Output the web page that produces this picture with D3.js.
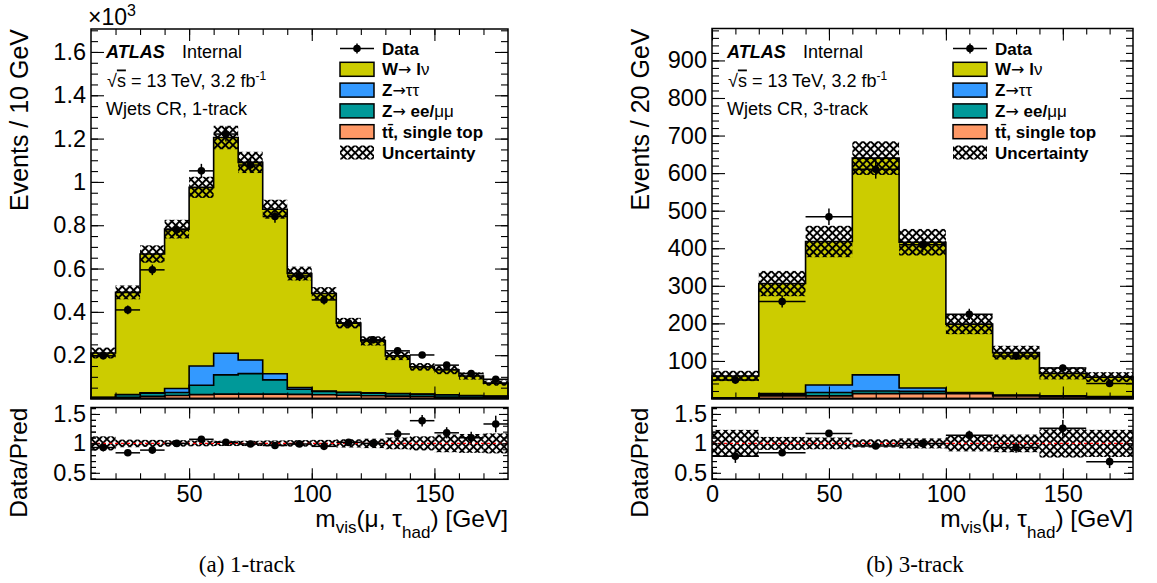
<!DOCTYPE html>
<html>
<head>
<meta charset="utf-8">
<script src="https://cdn.jsdelivr.net/npm/d3@7"></script>
<style>
  body { margin: 0; background: #fff; }
  svg { display: block; }
  text { font-family: "Liberation Sans", Arial, Helvetica, sans-serif; fill: #000; }
</style>
</head>
<body>
<svg id="fig" width="1157" height="583"></svg>
<script>
//bin edges (GeV)
var edgesL = [10, 20, 30, 40, 50, 60, 70, 80, 90, 100, 110, 120, 130, 140, 150, 160, 170, 180],
    edgesR = [0, 20, 40, 60, 80, 100, 120, 140, 160, 180];

//1-track: events / 10 GeV
var wjetsL = [205, 472, 641, 736, 825, 996, 912, 760, 526, 451, 319, 240, 174, 126, 115, 90, 60],
    zttL   = [1, 1, 2, 18, 89, 100, 63, 28, 8, 2, 1, 1, 1, 1, 1, 1, 1],
    zllL   = [1, 11, 14, 14, 43, 89, 95, 66, 24, 15, 13, 12, 11, 10, 9, 7, 5],
    topL   = [3, 6, 10, 14, 18, 20, 20, 20, 19, 17, 15, 13, 11, 9, 7, 6, 5],
    dataL  = [197, 409, 594, 779, 1051, 1221, 1078, 840, 566, 455, 348, 271, 220, 201, 154, 115, 89],
    ratioL = [0.93, 0.84, 0.886, 1.0, 1.07, 1.02, 0.99, 0.965, 0.99, 0.95, 1.017, 1.0, 1.16, 1.386, 1.18, 1.096, 1.33],
    uncL   = [0.12, 0.065, 0.06, 0.055, 0.05, 0.045, 0.045, 0.05, 0.055, 0.06, 0.07, 0.08, 0.10, 0.12, 0.15, 0.16, 0.17];

//3-track: events / 20 GeV
var wjetsR = [58, 293, 382, 577, 388, 182, 113, 60, 52],
    zttR   = [0.5, 3, 20, 43, 9, 1, 1, 1, 1],
    zllR   = [0.5, 3, 9, 7, 6, 2, 1, 1, 1],
    topR   = [1, 7, 7, 13, 13, 13, 7, 5, 3],
    dataR  = [49, 258, 484, 610, 409, 224, 113, 81, 40],
    ratioR = [0.78, 0.84, 1.17, 0.955, 1.0, 1.14, 0.93, 1.256, 0.69],
    uncR   = [0.23, 0.11, 0.10, 0.07, 0.085, 0.135, 0.15, 0.24, 0.23];

//tick labels
var yTicksL = [200, 400, 600, 800, 1000, 1200, 1400, 1600],
    yTicksR = [100, 200, 300, 400, 500, 600, 700, 800, 900],
    xTicksL = [50, 100, 150],
    xTicksR = [0, 50, 100, 150],
    rTicks = [0.5, 1, 1.5];

var colors = ["#ff9966", "#009999", "#3399ff", "#cccc00"]; //top, Z->ll, Z->tautau, W

var svg = d3.select("#fig");

//hatch pattern for the uncertainty band
svg.append("defs").append("pattern")
    .attr("id", "hatch")
    .attr("patternUnits", "userSpaceOnUse")
    .attr("width", 5.4).attr("height", 5.4)
    .attr("patternTransform", "rotate(45)")
  .append("path")
    .attr("d", "M2.7,0V5.4M0,2.7H5.4")
    .attr("stroke", "#000")
    .attr("stroke-width", 2);

function styleAxis(g, size) {
    g.select(".domain").remove();
    g.selectAll(".tick line").attr("stroke", "#000").attr("stroke-width", 1.1);
    g.attr("font-family", null).attr("font-size", size);
    g.selectAll("text").attr("fill", "#000");
}

function frameTicks(g, x, y, P, top, bottom, xMaj, xMin, yMaj, yMin, yLen, xLen) {
    var a;
    a = g.append("g").attr("transform", "translate(" + P.left + ",0)")
        .call(d3.axisLeft(y).tickValues(yMin).tickSize(-yLen[1]).tickFormat(""));
    styleAxis(a, 23);
    a = g.append("g").attr("transform", "translate(" + P.right + ",0)")
        .call(d3.axisRight(y).tickValues(yMin).tickSize(-yLen[1]).tickFormat(""));
    styleAxis(a, 23);
    a = g.append("g").attr("transform", "translate(" + P.right + ",0)")
        .call(d3.axisRight(y).tickValues(yMaj).tickSize(-yLen[0]).tickFormat(""));
    styleAxis(a, 23);
    a = g.append("g").attr("transform", "translate(0," + top + ")")
        .call(d3.axisTop(x).tickValues(xMin).tickSize(-xLen[1]).tickFormat(""));
    styleAxis(a, 23);
    a = g.append("g").attr("transform", "translate(0," + top + ")")
        .call(d3.axisTop(x).tickValues(xMaj).tickSize(-xLen[0]).tickFormat(""));
    styleAxis(a, 23);
    a = g.append("g").attr("transform", "translate(0," + bottom + ")")
        .call(d3.axisBottom(x).tickValues(xMin).tickSize(-xLen[1]).tickFormat(""));
    styleAxis(a, 23);
}

function drawPanel(P) {
    var g = svg.append("g");
    var n = P.data.length;
    var x = d3.scaleLinear().domain([P.edges[0], P.edges[n]]).range([P.left, P.right]);
    var y = d3.scaleLinear().domain([0, P.yMax]).range([P.mainBottom, P.mainTop]);
    var r = d3.scaleLinear().domain([0.39, 1.61]).range([P.ratBottom, P.ratTop]);

    //cumulative stack, bottom to top: top, Z->ll, Z->tautau, W
    var layers = [P.top, P.zll, P.ztt, P.wjets];
    var cum = [], run = P.data.map(function() { return 0; });
    layers.forEach(function(l) {
        run = run.map(function(v, i) { return v + l[i]; });
        cum.push(run);
    });
    var total = cum[3];

    var area = d3.area().curve(d3.curveStepAfter)
        .x(function(d) { return x(d.e); })
        .y0(y(0))
        .y1(function(d) { return y(d.v); });

    for (var k = 3; k >= 0; k--) {
        var pts = P.edges.map(function(e, i) { return {e: e, v: cum[k][Math.min(i, n - 1)]}; });
        g.append("path")
            .attr("d", area(pts))
            .attr("fill", colors[k])
            .attr("stroke", "#000")
            .attr("stroke-width", 1.6);
    }

    //uncertainty band
    g.selectAll(".band").data(total).enter().append("rect")
        .attr("x", function(d, i) { return x(P.edges[i]); })
        .attr("width", function(d, i) { return x(P.edges[i + 1]) - x(P.edges[i]); })
        .attr("y", function(d, i) { return y(d * (1 + P.unc[i])); })
        .attr("height", function(d, i) { return y(d * (1 - P.unc[i])) - y(d * (1 + P.unc[i])); })
        .attr("fill", "url(#hatch)");

    //data points
    var pts = g.append("g");
    P.data.forEach(function(d, i) {
        var cx = x((P.edges[i] + P.edges[i + 1]) / 2), e = Math.sqrt(d);
        pts.append("line").attr("x1", x(P.edges[i])).attr("x2", x(P.edges[i + 1]))
            .attr("y1", y(d)).attr("y2", y(d)).attr("stroke", "#000").attr("stroke-width", 1.5);
        pts.append("line").attr("x1", cx).attr("x2", cx)
            .attr("y1", y(d - e)).attr("y2", y(d + e)).attr("stroke", "#000").attr("stroke-width", 1.5);
        pts.append("circle").attr("cx", cx).attr("cy", y(d)).attr("r", 3.8).attr("fill", "#000");
    });

    //main panel ticks
    var xMin = d3.range(P.edges[0] + 10, P.edges[n], 10);
    var yMin = d3.range(P.yMinor, P.yMax, P.yMinor);
    var a = g.append("g").attr("transform", "translate(" + P.left + ",0)")
        .call(d3.axisLeft(y).tickValues(P.yTicks).tickSize(-13).tickPadding(5).tickFormat(P.yFmt));
    styleAxis(a, 23.5);
    frameTicks(g, x, y, P, P.mainTop, P.mainBottom, P.xTicks, xMin, P.yTicks, yMin, [13, 7], [12, 6]);
    a = g.append("g").attr("transform", "translate(0," + P.mainBottom + ")")
        .call(d3.axisBottom(x).tickValues(P.xTicks).tickSize(-12).tickFormat(""));
    styleAxis(a, 23);
    g.append("rect").attr("x", P.left).attr("y", P.mainTop)
        .attr("width", P.right - P.left).attr("height", P.mainBottom - P.mainTop)
        .attr("fill", "none").attr("stroke", "#000").attr("stroke-width", 1.5);

    //ratio panel
    g.selectAll(".rband").data(P.unc).enter().append("rect")
        .attr("x", function(d, i) { return x(P.edges[i]); })
        .attr("width", function(d, i) { return x(P.edges[i + 1]) - x(P.edges[i]); })
        .attr("y", function(d) { return r(1 + d); })
        .attr("height", function(d) { return r(1 - d) - r(1 + d); })
        .attr("fill", "url(#hatch)");
    g.append("line").attr("x1", P.left).attr("x2", P.right)
        .attr("y1", r(1)).attr("y2", r(1))
        .attr("stroke", "#ff0000").attr("stroke-width", 1.1).attr("stroke-dasharray", "3,3");
    var rp = g.append("g");
    P.ratio.forEach(function(d, i) {
        var cx = x((P.edges[i] + P.edges[i + 1]) / 2), e = d / Math.sqrt(P.data[i]);
        rp.append("line").attr("x1", x(P.edges[i])).attr("x2", x(P.edges[i + 1]))
            .attr("y1", r(d)).attr("y2", r(d)).attr("stroke", "#000").attr("stroke-width", 1.5);
        rp.append("line").attr("x1", cx).attr("x2", cx)
            .attr("y1", r(d - e)).attr("y2", r(d + e)).attr("stroke", "#000").attr("stroke-width", 1.5);
        rp.append("circle").attr("cx", cx).attr("cy", r(d)).attr("r", 3.8).attr("fill", "#000");
    });

    var rMin = d3.range(0.4, 1.65, 0.1);
    a = g.append("g").attr("transform", "translate(" + P.left + ",0)")
        .call(d3.axisLeft(r).tickValues(rTicks).tickSize(-9).tickPadding(5).tickFormat(d3.format("")));
    styleAxis(a, 23.5);
    a = g.append("g").attr("transform", "translate(" + P.left + ",0)")
        .call(d3.axisLeft(r).tickValues(rMin).tickSize(-5).tickFormat(""));
    styleAxis(a, 23);
    a = g.append("g").attr("transform", "translate(0," + P.ratBottom + ")")
        .call(d3.axisBottom(x).tickValues(P.xTicks).tickSize(-11).tickPadding(6).tickFormat(d3.format("")));
    styleAxis(a, 23.5);
    frameTicks(g, x, r, P, P.ratTop, P.ratBottom, P.xTicks, xMin, rTicks, rMin, [9, 5], [11, 6]);
    g.append("rect").attr("x", P.left).attr("y", P.ratTop)
        .attr("width", P.right - P.left).attr("height", P.ratBottom - P.ratTop)
        .attr("fill", "none").attr("stroke", "#000").attr("stroke-width", 1.5);

    //axis titles
    g.append("text")
        .attr("transform", "translate(" + (P.left - 63) + "," + P.mainTop + ") rotate(-90)")
        .attr("text-anchor", "end").attr("font-size", 25)
        .text(P.yTitle);
    g.append("text")
        .attr("transform", "translate(" + (P.left - 64) + "," + P.ratTop + ") rotate(-90)")
        .attr("text-anchor", "end").attr("font-size", 24.5)
        .text("Data/Pred");
    var xt = g.append("text").attr("x", P.right).attr("y", 527)
        .attr("text-anchor", "end").attr("font-size", 24.5);
    xt.append("tspan").text("m");
    xt.append("tspan").attr("dy", 6).attr("font-size", 17).text("vis");
    xt.append("tspan").attr("dy", -6).text("(\u03bc, \u03c4");
    xt.append("tspan").attr("dy", 11).attr("font-size", 17).text("had");
    xt.append("tspan").attr("dy", -11).text(") [GeV]");

    //caption
    g.append("text").attr("x", P.capX).attr("y", 572)
        .attr("text-anchor", "middle").attr("font-size", 23)
        .style("font-family", "'Liberation Serif', 'Times New Roman', serif")
        .text(P.caption);

    //labels
    var tx = P.left + 15;
    g.append("text").attr("x", tx).attr("y", 58).attr("font-size", 18)
        .attr("font-weight", "bold").attr("font-style", "italic").text("ATLAS");
    g.append("text").attr("x", tx + 76).attr("y", 58).attr("font-size", 18).text("Internal");
    var lum = g.append("text").attr("x", tx + 1).attr("y", 86.5).attr("font-size", 18);
    lum.append("tspan").text("\u221a");
    lum.append("tspan").style("text-decoration", "overline").text("s");
    lum.append("tspan").text(" = 13 TeV, 3.2 fb");
    lum.append("tspan").attr("dy", -7).attr("font-size", 12).text("-1");
    g.append("text").attr("x", tx).attr("y", 115).attr("font-size", 18).text(P.region);

    //legend
    var lx = P.legX, ly = 48.5, dy = 20.8;
    var leg = g.append("g").attr("font-size", 17).attr("font-weight", "bold");
    leg.append("line").attr("x1", lx).attr("x2", lx + 34).attr("y1", ly).attr("y2", ly)
        .attr("stroke", "#000").attr("stroke-width", 1.5);
    leg.append("line").attr("x1", lx + 17).attr("x2", lx + 17).attr("y1", ly - 5).attr("y2", ly + 5)
        .attr("stroke", "#000").attr("stroke-width", 1.5);
    leg.append("circle").attr("cx", lx + 17).attr("cy", ly).attr("r", 3.8).attr("fill", "#000");
    //b: bold, n: normal, a: arrow
    var labels = [
        [["W", "b"], ["\u2192", "a"], [" l", "b"], ["\u03bd", "n"]],
        [["Z", "b"], ["\u2192", "a"], ["\u03c4\u03c4", "n"]],
        [["Z", "b"], ["\u2192", "a"], [" ee/", "b"], ["\u03bc\u03bc", "n"]],
        [["tt\u0304, single top", "b"]],
        [["Uncertainty", "b"]]
    ];
    var boxFill = [colors[3], colors[2], colors[1], colors[0], "url(#hatch)"];
    leg.append("text").attr("x", lx + 42).attr("y", ly + 6).text("Data");
    labels.forEach(function(parts, i) {
        var cy = ly + dy * (i + 1);
        leg.append("rect").attr("x", lx).attr("y", cy - 7).attr("width", 34).attr("height", 14)
            .attr("fill", boxFill[i])
            .attr("stroke", i < 4 ? "#000" : "none").attr("stroke-width", 1.5);
        var t = leg.append("text").attr("x", lx + 42).attr("y", cy + 6);
        parts.forEach(function(p) {
            var s = t.append("tspan").attr("font-weight", p[1] == "b" ? "bold" : "normal").text(p[0]);
            if (p[1] == "a") s.style("font-family", "'DejaVu Sans', sans-serif").attr("font-size", 16);
        });
    });
    return g;
}

var gL = drawPanel({
    edges: edgesL, wjets: wjetsL, ztt: zttL, zll: zllL, top: topL,
    data: dataL, ratio: ratioL, unc: uncL,
    left: 91, right: 508, mainTop: 29, mainBottom: 398.5, ratTop: 407.5, ratBottom: 479.3,
    yMax: 1706, yMinor: 50, yTicks: yTicksL, xTicks: xTicksL,
    yFmt: function(d) { return String(+(d / 1000).toFixed(1)); },
    yTitle: "Events / 10 GeV", region: "Wjets CR, 1-track",
    legX: 340, capX: 247, caption: "(a) 1-track"
});
var ex = gL.append("text").attr("x", 88).attr("y", 25).attr("font-size", 23);
ex.append("tspan").text("\u00d710");
ex.append("tspan").attr("dy", -9).attr("font-size", 16).text("3");

drawPanel({
    edges: edgesR, wjets: wjetsR, ztt: zttR, zll: zllR, top: topR,
    data: dataR, ratio: ratioR, unc: uncR,
    left: 712, right: 1133, mainTop: 28.5, mainBottom: 398.5, ratTop: 407.5, ratBottom: 479.3,
    yMax: 985, yMinor: 20, yTicks: yTicksR, xTicks: xTicksR,
    yFmt: d3.format(""),
    yTitle: "Events / 20 GeV", region: "Wjets CR, 3-track",
    legX: 953, capX: 915, caption: "(b) 3-track"
});
</script>
</body>
</html>
